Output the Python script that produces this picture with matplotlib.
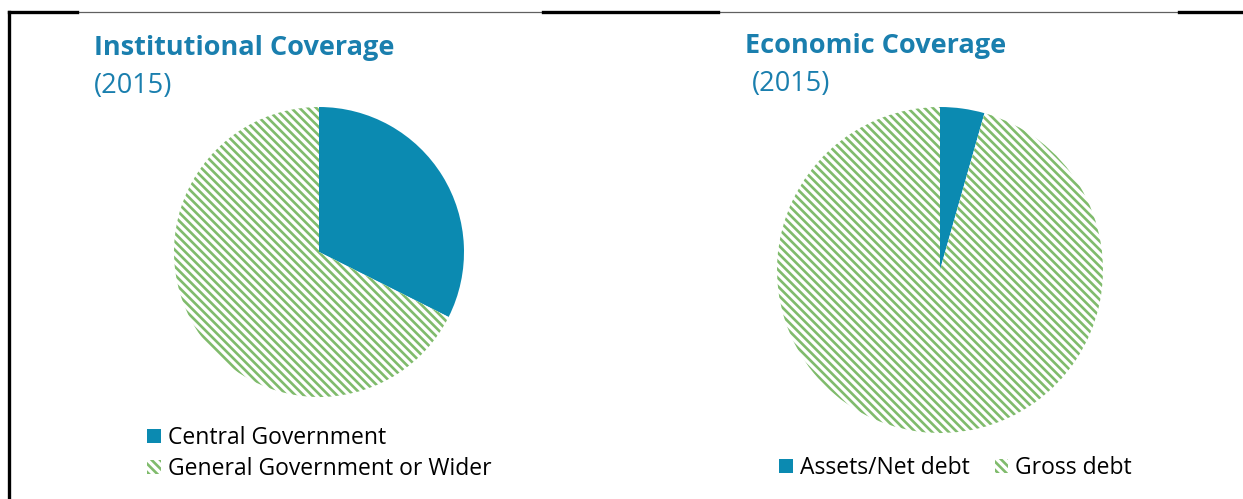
import matplotlib.pyplot as plt
from matplotlib.lines import Line2D

plt.rcParams['font.family'] = ['Open Sans', 'DejaVu Sans']
plt.rcParams['hatch.linewidth'] = 1.9

# Data
inst_labels = ['Central Government', 'General Government or Wider']
inst_values = [32.4, 67.6]
econ_labels = ['Assets/Net debt', 'Gross debt']
econ_values = [4.4, 95.6]

teal = '#0b8ab1'
green = '#80bb6c'
title_col = '#1a7fae'

W, H = 1243, 499
fig = plt.figure(figsize=(W / 100, H / 100), dpi=100)


def px_axes(left, top, size):
    # axes placed by pixel box (left, top, side length)
    return fig.add_axes([left / W, 1 - (top + size) / H, size / W, size / H])


def draw_pie(ax, values):
    wedges, _ = ax.pie(values, startangle=90, counterclock=False,
                       colors=[teal, 'white'])
    wedges[1].set_hatch('\\\\\\\\')
    wedges[1].set_edgecolor(green)
    wedges[1].set_linewidth(0)
    wedges[0].set_linewidth(0)
    ax.set_xlim(-1, 1)
    ax.set_ylim(-1, 1)
    ax.axis('off')
    return wedges


ax1 = px_axes(174, 107, 290)
w1 = draw_pie(ax1, inst_values)
ax2 = px_axes(777, 107, 326)
w2 = draw_pie(ax2, econ_values)

# Titles
fig.text(94 / W, 1 - 48 / H, 'Institutional Coverage', color=title_col,
         fontsize=19.5, fontweight='bold', va='center', ha='left')
fig.text(94 / W, 1 - 86 / H, '(2015)', color=title_col,
         fontsize=19.5, va='center', ha='left')
fig.text(745 / W, 1 - 46 / H, 'Economic Coverage', color=title_col,
         fontsize=19.5, fontweight='bold', va='center', ha='left')
fig.text(752 / W, 1 - 84 / H, '(2015)', color=title_col,
         fontsize=19.5, va='center', ha='left')

# Legends
leg_kw = dict(frameon=False, fontsize=16.5, handlelength=0.6, handleheight=0.6,
              handletextpad=0.3, borderpad=0, borderaxespad=0)
fig.legend(w1, inst_labels, loc='upper left', bbox_to_anchor=(147 / W, 1 - 426 / H),
           labelspacing=0.3, **leg_kw)
fig.legend(w2, econ_labels, loc='upper left', bbox_to_anchor=(779 / W, 1 - 456 / H),
           ncol=2, columnspacing=1.1, **leg_kw)

# Frame lines
ytop = 1 - 11.5 / H
fig.add_artist(Line2D([9 / W, 1], [ytop, ytop], color='#606060', lw=0.9,
                      transform=fig.transFigure))
for x0, x1 in [(9, 77), (543, 718), (1179, 1243)]:
    fig.add_artist(Line2D([x0 / W, x1 / W], [ytop, ytop], color='black', lw=2.4,
                          transform=fig.transFigure))
fig.add_artist(Line2D([9 / W, 9 / W], [0, ytop], color='black', lw=2.4,
                      transform=fig.transFigure))

fig.savefig('out.png', dpi=100)
